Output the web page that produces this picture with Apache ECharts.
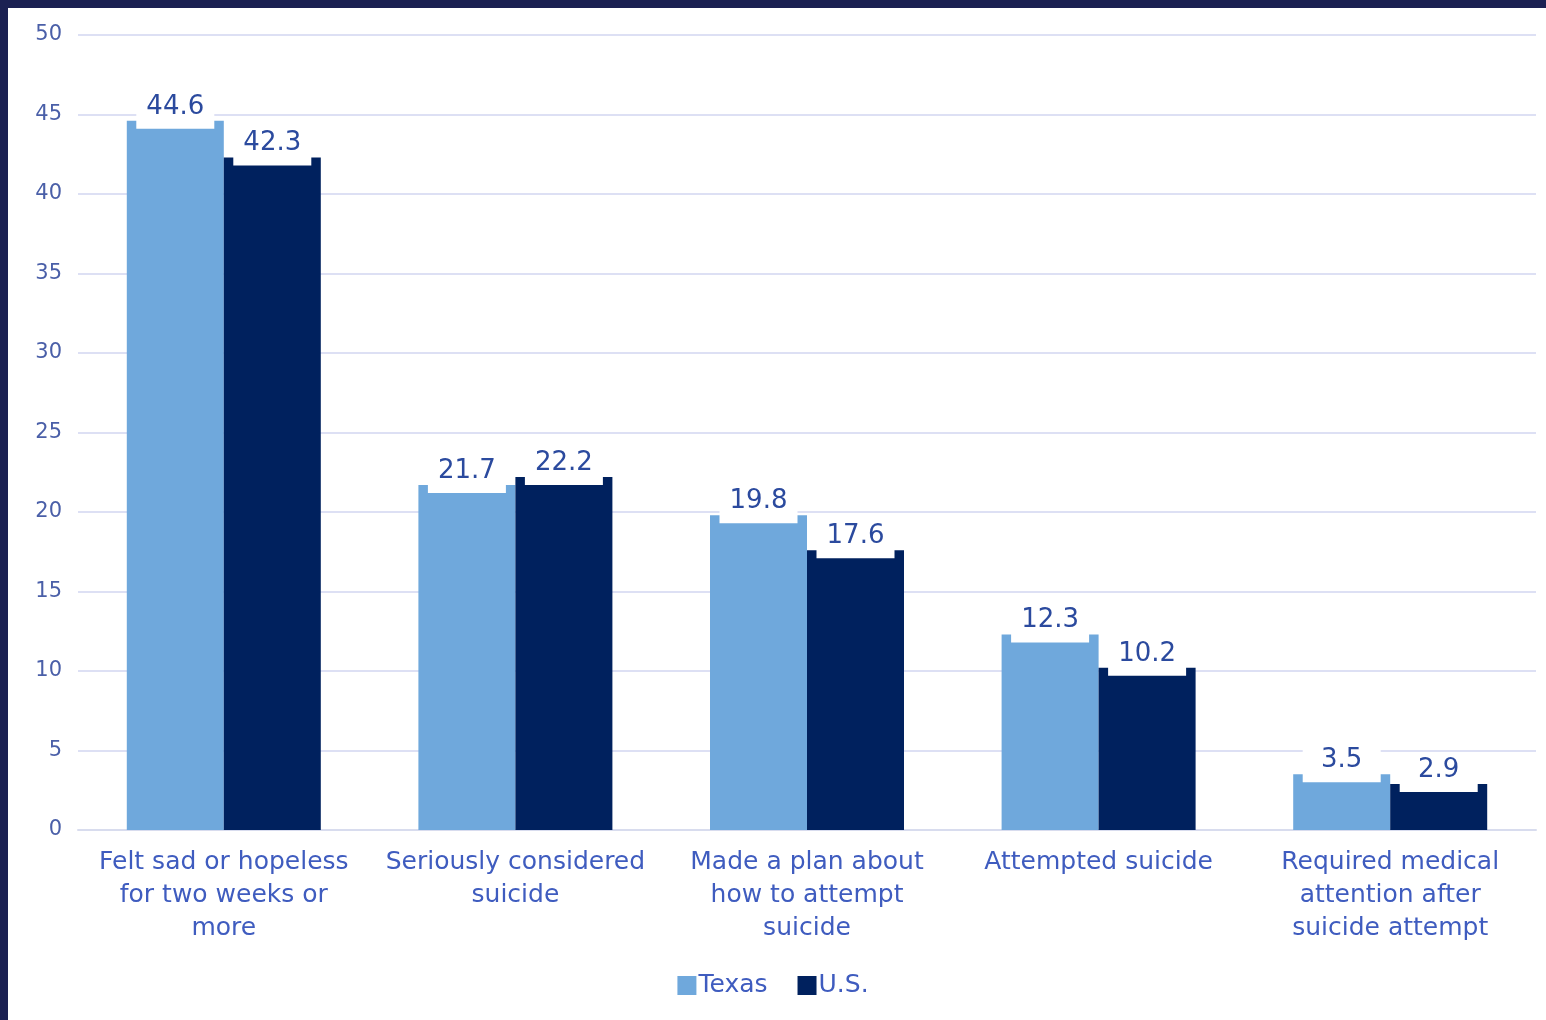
<!DOCTYPE html>
<html><head><meta charset="utf-8">
<script src="https://cdn.jsdelivr.net/npm/echarts@6/dist/echarts.min.js"></script>
<style>
html,body{margin:0;padding:0;background:#fff;}
#wrap{position:relative;width:1546px;height:1020px;overflow:hidden;}
#chart{position:absolute;left:0;top:0;width:1546px;height:1020px;}
.bd{position:absolute;background:#1b2152;pointer-events:none;}
</style></head>
<body>
<div id="wrap">
<div id="chart"></div>
<div class="bd" style="left:0;top:0;width:1546px;height:8px;"></div>
<div class="bd" style="left:0;top:0;width:8px;height:1020px;"></div>
</div>
<script>
const categories = [
  "Felt sad or hopeless\nfor two weeks or\nmore",
  "Seriously considered\nsuicide",
  "Made a plan about\nhow to attempt\nsuicide",
  "Attempted suicide",
  "Required medical\nattention after\nsuicide attempt"
];
const texasValues = [44.6, 21.7, 19.8, 12.3, 3.5];
const usValues = [42.3, 22.2, 17.6, 10.2, 2.9];
const seriesNames = ["Texas", "U.S."];

const FONT = "DejaVu Sans";
const TEXT = "#3f5cbf";
const labelStyle = {
  show: true,
  position: "top",
  distance: 0,
  offset: [0, 8],
  backgroundColor: "#fff",
  width: 66,
  align: "center",
  padding: [2, 6, 9, 6],
  color: "#2b4a9e",
  fontFamily: FONT,
  fontSize: 26,
  formatter: p => p.value.toFixed(1)
};
const chart = echarts.init(document.getElementById("chart"));
chart.setOption({
  animation: false,
  textStyle: { fontFamily: FONT },
  grid: { left: 78, right: 10, top: 35, bottom: 190, containLabel: false },
  legend: {
    bottom: 17,
    left: "center",
    itemWidth: 19,
    itemHeight: 19,
    itemGap: 30,
    icon: "rect",
    textStyle: { color: TEXT, fontSize: 25, fontFamily: FONT, padding: [0, 0, 0, -3] },
    data: seriesNames
  },
  xAxis: {
    type: "category",
    data: categories,
    axisLine: { lineStyle: { color: "#d8dcee", width: 2 } },
    axisTick: { show: false },
    axisLabel: { color: TEXT, fontSize: 25, lineHeight: 33, margin: 16, fontFamily: FONT, interval: 0 }
  },
  yAxis: {
    type: "value",
    min: 0, max: 50, interval: 5,
    axisLine: { show: false },
    axisTick: { show: false },
    splitLine: { lineStyle: { color: "#dde0f4", width: 2 } },
    axisLabel: { color: "#4a5fa8", fontSize: 21, margin: 16, fontFamily: FONT, align: "right" }
  },
  series: [
    {
      name: seriesNames[0], type: "bar", data: texasValues,
      barWidth: 97, barGap: "0%",
      itemStyle: { color: "#6fa8dc" },
      label: labelStyle
    },
    {
      name: seriesNames[1], type: "bar", data: usValues,
      barWidth: 97, barGap: "0%",
      itemStyle: { color: "#00215e" },
      label: labelStyle
    }
  ]
});
</script>
</body></html>
